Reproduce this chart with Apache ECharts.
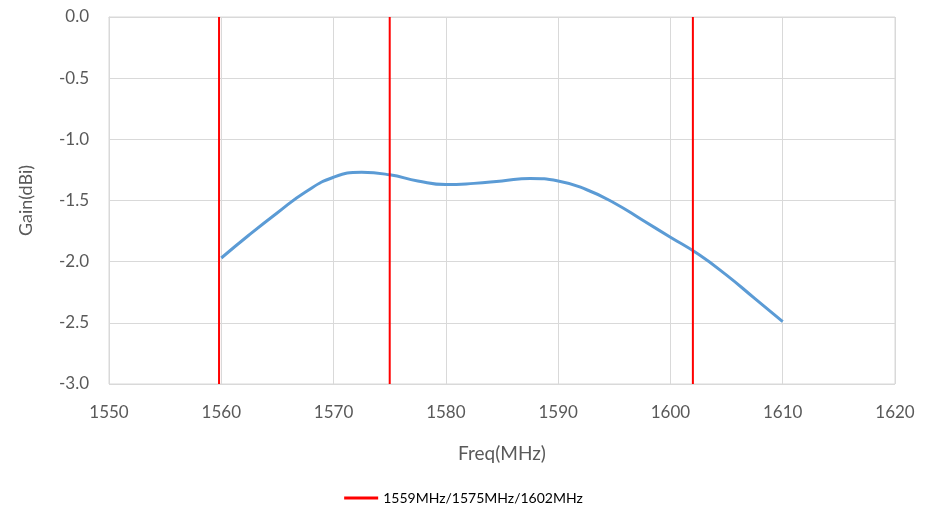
<!DOCTYPE html>
<html>
<head>
<meta charset="utf-8">
<script src="https://cdn.jsdelivr.net/npm/echarts@6/dist/echarts.min.js"></script>
<style>html,body{margin:0;padding:0;background:#fff;}#c{width:927px;height:516px;}</style>
</head>
<body>
<div id="c"></div>
<script>
const freq = [1560, 1562.5, 1565, 1567.5, 1570, 1572.5, 1575, 1577.5, 1580, 1582.5, 1585, 1587.5, 1590, 1592.5, 1595, 1597.5, 1600, 1602.5, 1605, 1607.5, 1610];
const gain = [-1.97, -1.78, -1.60, -1.43, -1.31, -1.27, -1.29, -1.34, -1.37, -1.36, -1.34, -1.32, -1.34, -1.41, -1.52, -1.66, -1.80, -1.94, -2.11, -2.30, -2.49];
const markerFreqs = [1559.8, 1575, 1602];
const markerName = '1559MHz/1575MHz/1602MHz';
const xTicks = {min: 1550, max: 1620, interval: 10};
const yTicks = {min: -3, max: 0, interval: 0.5};

const font = 'Lato, "Open Sans", sans-serif';
const chart = echarts.init(document.getElementById('c'));
const series = [{
  type: 'line', name: 'Gain', data: freq.map((f, i) => [f, gain[i]]),
  smooth: 0.5, showSymbol: false, symbol: 'none',
  lineStyle: {color: '#5B9BD5', width: 3}, itemStyle: {color: '#5B9BD5'}, z: 3
}];
markerFreqs.forEach(f => series.push({
  type: 'line', name: markerName, data: [[f, yTicks.max], [f, yTicks.min]],
  showSymbol: false, symbol: 'none', lineStyle: {color: '#FF0000', width: 2},
  itemStyle: {color: '#FF0000'}, z: 4
}));
chart.setOption({
  animation: false,
  grid: {left: 109, right: 32, top: 17, bottom: 132, show: true, borderColor: '#d9d9d9', borderWidth: 1},
  legend: {data: [{name: markerName, icon: 'rect'}], bottom: 6, left: 'center', itemWidth: 34, itemHeight: 3,
    textStyle: {fontFamily: font, fontSize: 14, color: '#000'}},
  xAxis: {type: 'value', min: xTicks.min, max: xTicks.max, interval: xTicks.interval,
    name: 'Freq(MHz)', nameLocation: 'middle', nameGap: 60,
    nameTextStyle: {fontFamily: font, fontSize: 19, color: '#595959'},
    axisLine: {show: true, lineStyle: {color: '#d9d9d9'}}, axisTick: {show: false},
    axisLabel: {fontFamily: font, fontSize: 17, color: '#595959', margin: 20, formatter: v => String(v)},
    splitLine: {show: true, lineStyle: {color: '#d9d9d9'}}},
  yAxis: {type: 'value', min: yTicks.min, max: yTicks.max, interval: yTicks.interval,
    name: 'Gain(dBi)', nameLocation: 'middle', nameGap: 74, nameRotate: 90,
    nameTextStyle: {fontFamily: font, fontSize: 18, color: '#595959'},
    axisLine: {show: true, lineStyle: {color: '#d9d9d9'}}, axisTick: {show: false},
    axisLabel: {fontFamily: font, fontSize: 17, color: '#595959', margin: 20, formatter: v => v.toFixed(1)},
    splitLine: {show: true, lineStyle: {color: '#d9d9d9'}}},
  series: series
});
</script>
</body>
</html>
